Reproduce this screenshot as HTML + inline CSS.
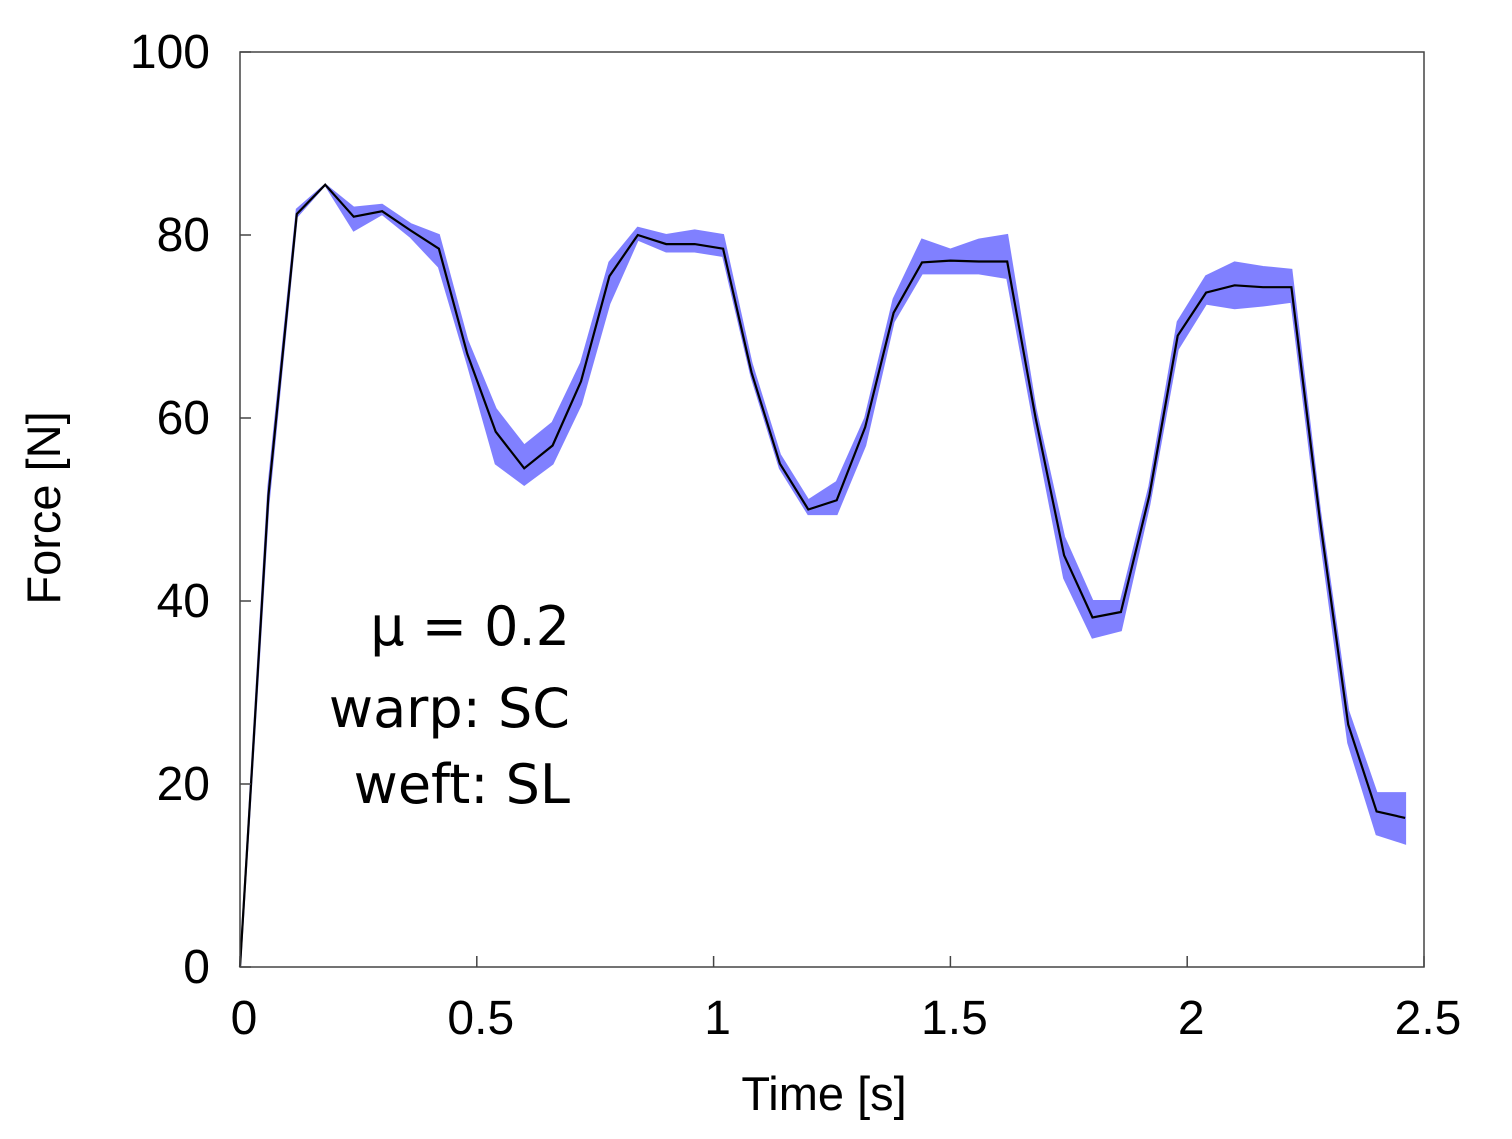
<!DOCTYPE html>
<html><head><meta charset="utf-8"><style>
html,body{margin:0;padding:0;background:#fff;}
svg text{font-family:"Liberation Sans",sans-serif;fill:#000;}
</style></head><body>
<svg id="chart" width="1512" height="1134" viewBox="0 0 1512 1134" xmlns="http://www.w3.org/2000/svg">
<g id="band"></g>
<g id="line"></g>
<rect x="240" y="52" width="1184" height="915" fill="none" stroke="#444" stroke-width="1.5"/>
<g id="axes"></g>
<text x="824" y="1110" font-size="47" text-anchor="middle">Time [s]</text>
<text transform="translate(60,508) rotate(-90)" font-size="47" text-anchor="middle">Force [N]</text>
<g font-size="54" text-anchor="end">
<text x="570" y="645" style="font-family:'DejaVu Sans',sans-serif">μ = 0.2</text>
<text x="570" y="727" style="font-family:'DejaVu Sans',sans-serif">warp: SC</text>
<text x="570" y="803" style="font-family:'DejaVu Sans',sans-serif">weft: SL</text>
</g>
</svg>
<script>
const times = [0,0.06,0.12,0.18,0.24,0.30,0.36,0.42,0.48,0.54,0.60,0.66,0.72,0.78,0.84,0.90,0.96,1.02,1.08,1.14,1.20,1.26,1.32,1.38,1.44,1.50,1.56,1.62,1.68,1.74,1.80,1.86,1.92,1.98,2.04,2.10,2.16,2.22,2.28,2.34,2.40,2.46];
const meanForce = [0,51.5,82.3,85.5,82,82.6,80.5,78.5,67,58.5,54.5,57,64,75.5,80,79,79,78.5,65,55,50,51,59,71.5,77,77.2,77.1,77.1,60,45,38.2,38.8,51.5,69,73.7,74.5,74.3,74.3,49,26.5,17,16.3];
const upperForce = [0,52.5,82.8,85.5,83,83.3,81.2,80,68.5,61,57,59.5,66,77,80.8,80,80.5,80,66,56,51,53,60,73,79.5,78.4,79.5,80,61,47,40,40,52.5,70.5,75.5,77,76.5,76.2,50,28,19,19];
const lowerForce = [0,50.5,82,85.5,80.5,82.3,79.8,76.5,66,55,52.7,55,61.5,72.5,79.5,78.2,78.2,77.7,64.5,54.5,49.5,49.5,57,70.5,75.8,75.8,75.8,75.3,58.5,42.5,36,36.8,50.5,67.5,72.5,72,72.3,72.7,47.5,24.5,14.5,13.5];
const xTicks = [0,0.5,1,1.5,2,2.5];
const xTickLabels = ["0","0.5","1","1.5","2","2.5"];
const yTicks = [0,20,40,60,80,100];
const yTickLabels = ["0","20","40","60","80","100"];

const X0=240,X1=1424,Y0=967,Y1=52;
const xs = t => X0 + (t-0)/(2.5-0)*(X1-X0);
const ys = v => Y0 - (v-0)/(100-0)*(Y0-Y1);
const NS="http://www.w3.org/2000/svg";

const band=document.getElementById('band');
let d = times.map((t,i)=>(i?'L':'M')+xs(t).toFixed(1)+','+ys(upperForce[i]).toFixed(1)).join(' ');
for(let i=times.length-1;i>=0;i--) d+=' L'+xs(times[i]).toFixed(1)+','+ys(lowerForce[i]).toFixed(1);
d+=' Z';
const bp=document.createElementNS(NS,'path');


bp.setAttribute('d',d);bp.setAttribute('fill','#8080ff');bp.setAttribute('stroke','#8080ff');bp.setAttribute('stroke-width','2');
band.appendChild(bp);

const lp=document.createElementNS(NS,'polyline');


lp.setAttribute('points',times.map((t,i)=>xs(t).toFixed(1)+','+ys(meanForce[i]).toFixed(1)).join(' '));
lp.setAttribute('fill','none');lp.setAttribute('stroke','#000');lp.setAttribute('stroke-width','2.2');
document.getElementById('line').appendChild(lp);

const axes=document.getElementById('axes');
xTicks.forEach((t,i)=>{
  const l=document.createElementNS(NS,'line');
  
  
  l.setAttribute('x1',xs(t));l.setAttribute('x2',xs(t));l.setAttribute('y1',Y0);l.setAttribute('y2',Y0-11);
  l.setAttribute('stroke','#444');l.setAttribute('stroke-width','1.5');axes.appendChild(l);
  const tx=document.createElementNS(NS,'text');
  
  
  tx.setAttribute('x',xs(t)+4);tx.setAttribute('y',1034);tx.setAttribute('font-size','48');tx.setAttribute('text-anchor','middle');
  tx.textContent=xTickLabels[i];axes.appendChild(tx);
});
yTicks.forEach((v,i)=>{
  const l=document.createElementNS(NS,'line');
  
  
  l.setAttribute('x1',X0);l.setAttribute('x2',X0+11);l.setAttribute('y1',ys(v));l.setAttribute('y2',ys(v));
  l.setAttribute('stroke','#444');l.setAttribute('stroke-width','1.5');axes.appendChild(l);
  const tx=document.createElementNS(NS,'text');
  
  
  tx.setAttribute('x',210);tx.setAttribute('y',ys(v)+16);tx.setAttribute('font-size','48');tx.setAttribute('text-anchor','end');
  tx.textContent=yTickLabels[i];axes.appendChild(tx);
});
</script>
</body></html>
